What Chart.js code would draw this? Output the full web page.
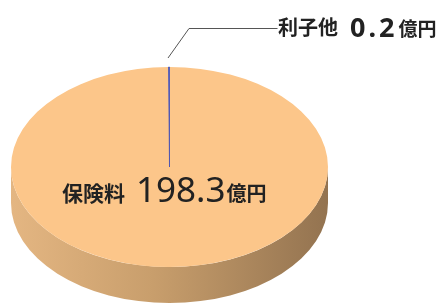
<!DOCTYPE html>
<html><head><meta charset="utf-8">
<script src="https://cdn.jsdelivr.net/npm/chart.js@4.4.1/dist/chart.umd.min.js"></script>
<style>
html,body{margin:0;padding:0;background:#fff;overflow:hidden;}
canvas{display:block;}
</style></head>
<body>
<canvas id="c" width="445" height="306"></canvas>
<script>
// ---- data ----
const categories = ['保険料', '利子他'];
const values = [198.3, 0.2];
const valueLabels = ['198.3', '0.2'];
const unit = '億円';

// ---- layout / style ----
const sliceColors = ['#fcc68a', '#3c48b4'];
const ELLIPSE = {cx: 169.5, cy: 167, rx: 158.5, ry: 100, depth: 36};
const TEXT_COLOR = '#222222';
const CJK = '"Noto Sans CJK JP", "Noto Sans", sans-serif';
const NUM = '"Noto Sans", "DejaVu Sans", sans-serif';

const pie3d = {
  id: 'pie3d',
  beforeDatasetsDraw(chart) {
    const ctx = chart.ctx;
    const arc = chart.getDatasetMeta(0).data[0];
    const {cx, cy, rx, ry, depth} = ELLIPSE;
    // side wall
    ctx.save();
    const g = ctx.createLinearGradient(cx - rx, 0, cx + rx, 0);
    g.addColorStop(0, '#e4b682');
    g.addColorStop(0.45, '#c89e6c');
    g.addColorStop(1, '#937350');
    ctx.beginPath();
    ctx.moveTo(cx + rx, cy);
    ctx.lineTo(cx + rx, cy + depth);
    ctx.ellipse(cx, cy + depth, rx, ry, 0, 0, Math.PI, false);
    ctx.lineTo(cx - rx, cy);
    ctx.ellipse(cx, cy, rx, ry, 0, Math.PI, 0, true);
    ctx.closePath();
    ctx.fillStyle = g;
    ctx.fill();
    ctx.restore();
    // squash the library's pie into the top ellipse
    ctx.save();
    ctx.translate(cx, cy);
    ctx.scale(rx / arc.outerRadius, ry / arc.outerRadius);
    ctx.translate(-arc.x, -arc.y);
  },
  afterDatasetsDraw(chart) {
    chart.ctx.restore();
  },
  afterDraw(chart) {
    const ctx = chart.ctx;
    const {cx, cy, ry} = ELLIPSE;
    ctx.save();
    ctx.fillStyle = TEXT_COLOR;
    ctx.textBaseline = 'alphabetic';
    ctx.textAlign = 'left';
    function drawParts(x, parts) {
      for (const p of parts) {
        ctx.font = p.font;
        ctx.letterSpacing = p.ls || '0px';
        ctx.fillText(p.text, x, p.y);
        x += ctx.measureText(p.text).width + (p.gap || 0);
      }
      ctx.letterSpacing = '0px';
    }
    // main label
    drawParts(62, [
      {text: categories[0], font: 'bold 21px ' + CJK, y: 201, gap: 11},
      {text: valueLabels[0], font: '35px ' + NUM, y: 202, gap: 1},
      {text: unit, font: 'bold 20px ' + CJK, y: 201}
    ]);
    // leader line for small slice
    const topY = cy - ry;
    ctx.strokeStyle = '#555555';
    ctx.lineWidth = 1;
    ctx.beginPath();
    ctx.moveTo(cx - 1.5, topY - 9);
    ctx.lineTo(cx + 19.5, 28.5);
    ctx.lineTo(cx + 108, 28.5);
    ctx.stroke();
    drawParts(278, [
      {text: categories[1], font: 'bold 20px ' + CJK, y: 35, gap: 12},
      {text: valueLabels[1], font: 'bold 27px ' + NUM, y: 37, gap: 1, ls: '3px'},
      {text: unit, font: 'bold 19px ' + CJK, y: 36}
    ]);
    ctx.restore();
  }
};

new Chart(document.getElementById('c'), {
  type: 'pie',
  data: {
    labels: categories,
    datasets: [{
      data: values,
      backgroundColor: sliceColors,
      borderColor: sliceColors,
      borderWidth: [0, 0.8]
    }]
  },
  options: {
    responsive: false,
    animation: false,
    layout: {padding: 0},
    plugins: {legend: {display: false}, tooltip: {enabled: false}}
  },
  plugins: [pie3d]
});
</script>
</body></html>
